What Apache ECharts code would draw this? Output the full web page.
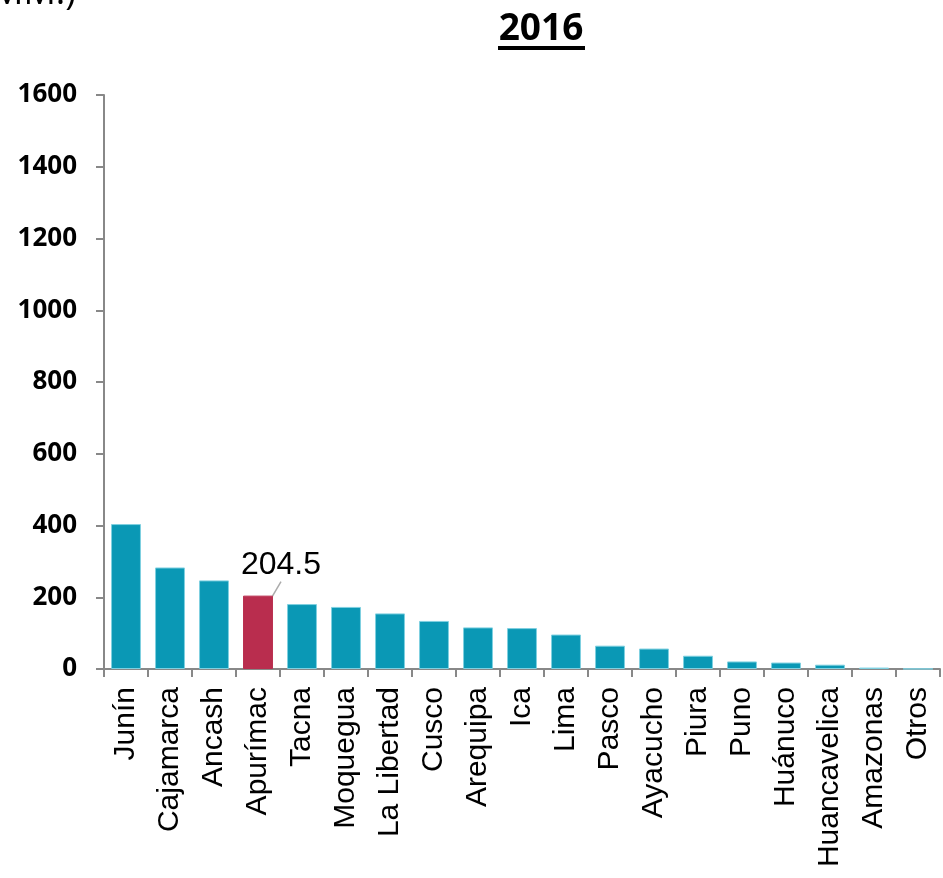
<!DOCTYPE html>
<html>
<head>
<meta charset="utf-8">
<script src="https://cdn.jsdelivr.net/npm/echarts@6/dist/echarts.min.js"></script>
<style>
html,body{margin:0;padding:0;background:#fff;}
#chart{width:943px;height:878px;}
</style>
</head>
<body>
<div id="chart"></div>
<script>
var categories = ['Junín','Cajamarca','Ancash','Apurímac','Tacna','Moquegua','La Libertad','Cusco','Arequipa','Ica','Lima','Pasco','Ayacucho','Piura','Puno','Huánuco','Huancavelica','Amazonas','Otros'];
var values = [404, 283, 247, 204.5, 181, 173, 155, 134, 116, 114, 96, 65, 57, 37, 21, 18, 12, 4, 0.5];
var highlightName = 'Apurímac';
var yTicks = [0, 200, 400, 600, 800, 1000, 1200, 1400, 1600];
var titleText = '2016';
var unitText = 'MM.)';

var teal = '#0A98B5';
var red = '#B92D4E';

var seriesData = values.map(function (v, i) {
  var item = { value: v };
  if (categories[i] === highlightName) {
    item.itemStyle = { color: red, borderColor: red };
    item.label = {
      show: true,
      position: 'top',
      distance: 14,
      formatter: function (p) { return p.value.toFixed(1); },
      fontSize: 32,
      fontFamily: "'Liberation Sans', Arial, sans-serif",
      color: '#000'
    };
    item.labelLine = { show: true, lineStyle: { color: '#aaa', width: 1.5 } };
  }
  return item;
});

var chart = echarts.init(document.getElementById('chart'), null, { renderer: 'canvas' });
chart.setOption({
  animation: false,
  backgroundColor: '#fff',
  title: {
    text: titleText,
    left: 541,
    textAlign: 'center',
    top: 6,
    textStyle: {
      fontSize: 37,
      fontWeight: 'bold',
      fontFamily: "'Open Sans', Lato, sans-serif",
      color: '#000'
    }
  },
  graphic: [
    {
      type: 'text',
      left: -9,
      top: -24,
      style: {
        text: unitText,
        font: "36px 'Open Sans', Lato, sans-serif",
        fill: '#000'
      }
    },
    {
      type: 'rect',
      shape: { x: 498, y: 46, width: 87, height: 4 },
      style: { fill: '#000' }
    }
  ],
  grid: { left: 104, right: 3, top: 95, bottom: 209 },
  xAxis: {
    type: 'category',
    data: categories,
    axisLine: { lineStyle: { color: '#888', width: 2 } },
    axisTick: { show: true, alignWithLabel: false, length: 8, lineStyle: { color: '#888', width: 2 } },
    axisLabel: {
      rotate: 90,
      interval: 0,
      margin: 18,
      fontSize: 30,
      fontFamily: "'Liberation Sans', Arial, sans-serif",
      color: '#000'
    }
  },
  yAxis: {
    type: 'value',
    min: yTicks[0],
    max: yTicks[yTicks.length - 1],
    interval: 200,
    splitLine: { show: false },
    axisLine: { show: true, lineStyle: { color: '#888', width: 2 } },
    axisTick: { show: true, length: 8, lineStyle: { color: '#888', width: 2 } },
    axisLabel: {
      margin: 27,
      fontSize: 26,
      fontWeight: 'bold',
      fontFamily: "'Open Sans', Lato, sans-serif",
      color: '#000',
      formatter: function (v) { return String(v); }
    }
  },
  series: [{
    type: 'bar',
    data: seriesData,
    barWidth: '68%',
    itemStyle: { color: teal, borderColor: '#7fd0e0', borderWidth: 1 },
    labelLayout: { dx: 23, dy: 0 },
    label: { show: false }
  }]
});
// Center the title text over the underline (ECharts title box includes padding)
chart.setOption({ title: { left: 536 } });
</script>
</body>
</html>
